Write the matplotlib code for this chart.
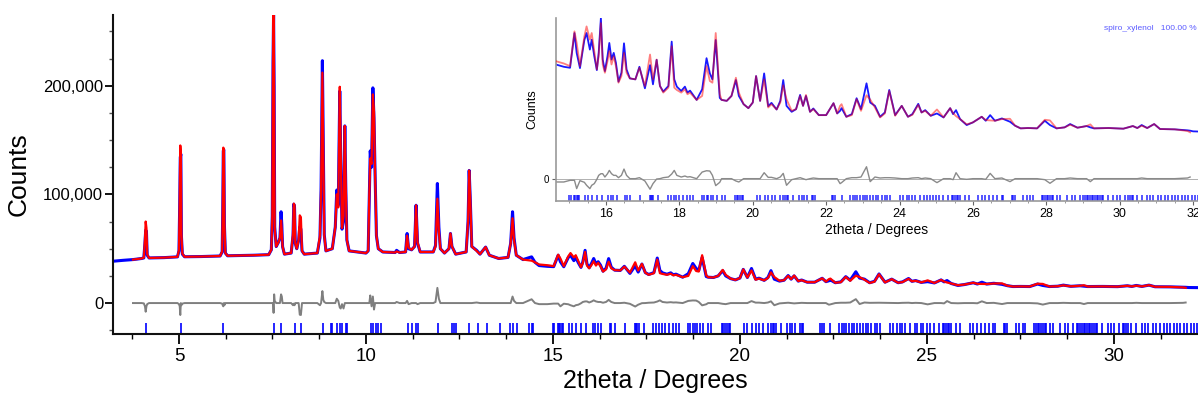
import numpy as np
import matplotlib
matplotlib.use("Agg")
import matplotlib.pyplot as plt
from matplotlib.ticker import MultipleLocator, FuncFormatter

plt.rcParams["font.family"] = ["Liberation Sans", "DejaVu Sans"]

# 2theta grid with observed / calculated counts (in thousands)
two_theta = [
    3.24, 3.50, 3.77, 4.00, 4.06, 4.09, 4.11, 4.13, 4.15, 4.20, 4.60, 4.96,
    5.00, 5.02, 5.035, 5.05, 5.065, 5.09, 5.15, 5.60, 6.10, 6.155, 6.17, 6.185,
    6.20, 6.215, 6.24, 6.30, 7.00, 7.40, 7.47, 7.495, 7.515, 7.53, 7.545, 7.56,
    7.60, 7.66, 7.70, 7.73, 7.75, 7.77, 7.82, 8.00, 8.05, 8.07, 8.09, 8.11,
    8.15, 8.20, 8.23, 8.26, 8.29, 8.35, 8.70, 8.77, 8.80, 8.835, 8.86, 8.885,
    8.93, 9.10, 9.18, 9.22, 9.26, 9.30, 9.325, 9.36, 9.40, 9.435, 9.46, 9.49,
    9.55, 10.00, 10.06, 10.09, 10.115, 10.15, 10.185, 10.215, 10.245, 10.28, 10.33, 10.45,
    10.78, 10.82, 10.90, 11.06, 11.10, 11.14, 11.22, 11.30, 11.34, 11.38, 11.45, 11.80,
    11.86, 11.91, 11.95, 11.99, 12.10, 12.22, 12.26, 12.30, 12.40, 12.68, 12.73, 12.76,
    12.79, 12.83, 12.96, 13.05, 13.20, 13.30, 13.55, 13.80, 13.87, 13.92, 13.96, 14.02,
    14.20, 14.43, 14.52, 14.63, 14.85, 15.02, 15.14, 15.20, 15.29, 15.41, 15.47, 15.56,
    15.61, 15.68, 15.75, 15.80, 15.86, 15.91, 15.97, 16.04, 16.09, 16.15, 16.21, 16.27,
    16.34, 16.42, 16.49, 16.56, 16.65, 16.80, 16.91, 17.06, 17.20, 17.28, 17.38, 17.47,
    17.56, 17.70, 17.79, 17.86, 17.93, 18.05, 18.15, 18.22, 18.29, 18.47, 18.62, 18.74,
    18.83, 18.90, 18.99, 19.10, 19.15, 19.29, 19.42, 19.54, 19.62, 19.75, 19.88, 20.00,
    20.09, 20.20, 20.31, 20.42, 20.51, 20.65, 20.75, 20.83, 20.92, 21.06, 21.18, 21.29,
    21.37, 21.45, 21.56, 21.65, 21.80, 22.00, 22.20, 22.30, 22.38, 22.42, 22.55, 22.70,
    22.83, 22.95, 23.10, 23.20, 23.33, 23.47, 23.60, 23.72, 23.88, 24.06, 24.23, 24.35,
    24.51, 24.60, 24.70, 24.85, 25.02, 25.20, 25.38, 25.46, 25.54, 25.65, 25.83, 26.00,
    26.24, 26.35, 26.47, 26.60, 26.79, 27.01, 27.15, 27.30, 27.50, 27.75, 27.96, 28.10,
    28.28, 28.50, 28.65, 28.85, 29.10, 29.20, 29.30, 29.70, 30.10, 30.36, 30.48, 30.60,
    30.75, 30.94, 31.10, 31.50, 31.85, 31.92, 32.00, 32.25,
]
obs_k = [
    38.5, 39.3, 40.0, 41.0, 41.5, 55.0, 67.0, 66.0, 44.0, 41.5, 41.8, 42.5,
    48.0, 92.0, 134.0, 137.0, 62.0, 45.0, 42.6, 42.8, 43.3, 47.0, 83.0, 140.0,
    141.0, 72.0, 46.0, 43.5, 44.0, 44.5, 49.0, 80.0, 222.0, 266.0, 200.0, 70.0,
    52.0, 56.0, 60.0, 84.0, 72.0, 52.0, 45.0, 46.0, 62.0, 91.0, 88.0, 55.0,
    50.0, 58.0, 70.0, 68.0, 48.0, 45.0, 46.0, 60.0, 104.0, 223.0, 138.0, 63.0,
    48.0, 50.0, 70.0, 104.0, 90.0, 195.0, 135.0, 68.0, 75.0, 163.0, 108.0, 58.0,
    48.0, 46.0, 48.0, 100.0, 140.0, 125.0, 198.0, 170.0, 117.0, 62.0, 50.0, 47.0,
    46.5, 48.5, 46.5, 47.0, 64.0, 50.0, 49.0, 52.0, 90.0, 55.0, 47.0, 47.0,
    53.0, 110.0, 70.0, 50.0, 46.0, 50.0, 64.0, 52.0, 45.0, 47.0, 75.0, 122.0,
    95.0, 52.0, 48.5, 45.0, 51.5, 44.0, 41.0, 42.0, 55.0, 84.0, 60.0, 44.0,
    40.0, 42.5, 37.5, 34.5, 33.8, 33.5, 44.0, 38.0, 33.4, 41.9, 44.0, 39.0,
    42.0, 37.0, 32.8, 38.0, 48.5, 36.0, 32.5, 37.0, 41.0, 36.0, 38.0, 35.0,
    29.3, 32.0, 40.9, 33.0, 30.3, 30.0, 33.8, 27.3, 34.3, 28.5, 35.9, 28.0,
    26.3, 28.0, 41.4, 30.0, 27.8, 26.5, 27.8, 26.0, 26.6, 23.8, 27.0, 36.4,
    31.8, 30.0, 41.9, 24.4, 23.8, 23.5, 25.0, 29.8, 25.0, 22.5, 21.3, 23.0,
    31.0, 23.5, 31.8, 21.9, 22.9, 20.9, 23.5, 29.8, 22.0, 20.2, 21.0, 25.3,
    22.0, 25.0, 20.2, 21.2, 19.2, 19.2, 22.8, 19.7, 20.5, 21.3, 18.7, 19.5,
    24.3, 21.0, 28.8, 23.0, 22.0, 18.7, 20.0, 26.8, 19.2, 22.0, 18.7, 19.5,
    22.6, 20.0, 20.7, 19.0, 19.7, 18.5, 21.3, 19.5, 20.7, 18.0, 16.2, 17.0,
    18.7, 17.5, 19.2, 17.5, 18.2, 17.2, 16.0, 15.2, 15.3, 15.2, 17.5, 16.2,
    15.2, 15.5, 16.5, 15.4, 15.9, 15.5, 15.2, 15.3, 15.1, 15.9, 15.3, 16.2,
    15.3, 16.5, 15.0, 14.9, 14.6, 14.5, 14.3, 14.2,
]
calc_k = [
    38.5, 39.3, 40.0, 41.0, 41.8, 58.0, 75.0, 69.0, 45.0, 41.5, 41.8, 42.5,
    49.0, 95.0, 145.0, 137.0, 64.0, 45.5, 42.6, 42.8, 43.3, 47.5, 85.0, 143.0,
    141.0, 74.0, 46.0, 43.5, 44.0, 44.5, 49.0, 80.0, 222.0, 275.0, 192.0, 68.0,
    52.0, 56.0, 60.0, 76.0, 66.0, 52.0, 45.0, 46.0, 64.0, 91.5, 90.0, 55.0,
    50.0, 58.0, 80.7, 79.0, 48.0, 45.0, 46.0, 62.0, 104.0, 212.0, 135.0, 62.0,
    48.0, 50.0, 70.0, 100.0, 88.0, 199.0, 140.0, 69.0, 80.0, 163.0, 108.0, 58.0,
    48.0, 46.0, 48.0, 100.0, 133.0, 128.0, 192.0, 176.0, 117.0, 62.0, 50.0, 47.0,
    46.5, 47.5, 46.5, 47.0, 62.0, 51.0, 49.0, 52.0, 90.0, 56.0, 47.0, 47.0,
    52.0, 96.0, 66.0, 50.0, 46.0, 50.0, 64.0, 52.0, 45.0, 47.0, 75.0, 122.0,
    95.0, 52.0, 48.0, 45.0, 51.5, 44.0, 41.0, 42.0, 55.0, 78.0, 58.0, 44.0,
    40.0, 39.0, 37.5, 35.5, 34.8, 34.0, 44.5, 41.0, 34.0, 43.0, 46.0, 42.0,
    44.0, 38.5, 33.0, 37.0, 47.0, 34.5, 32.0, 35.5, 38.5, 34.5, 37.0, 34.0,
    29.0, 31.0, 38.0, 32.0, 30.3, 30.0, 33.5, 28.0, 37.5, 30.0, 36.0, 28.0,
    26.0, 27.5, 40.0, 27.5, 26.8, 26.0, 27.0, 25.5, 26.0, 23.8, 25.0, 34.0,
    29.5, 29.0, 44.0, 25.5, 23.8, 23.5, 25.0, 30.5, 26.0, 22.5, 21.3, 23.0,
    31.0, 23.5, 30.0, 21.5, 22.5, 20.9, 23.0, 28.2, 24.0, 20.5, 21.0, 25.0,
    22.0, 25.3, 20.2, 21.0, 19.2, 19.2, 22.8, 19.7, 22.0, 22.5, 18.7, 19.2,
    24.0, 20.5, 25.2, 23.9, 21.5, 18.5, 19.7, 26.5, 19.0, 22.0, 18.7, 19.3,
    22.3, 20.0, 20.5, 19.0, 20.9, 18.5, 21.3, 19.8, 18.9, 18.0, 16.4, 17.0,
    18.7, 17.7, 17.6, 17.5, 18.0, 18.1, 16.0, 15.2, 15.3, 15.2, 17.8, 17.6,
    15.2, 15.5, 16.3, 15.4, 15.9, 16.4, 15.2, 15.3, 15.1, 15.9, 15.3, 16.0,
    15.3, 16.5, 15.0, 14.9, 14.4, 14.0, 14.3, 14.2,
]
# refinement range (calc and difference only exist here)
fit_start, fit_end = 3.77, 31.92

# reflection positions for the phase
hkl_pos = [
    4.11, 5.05, 6.19, 7.55, 7.73, 8.09, 8.25, 8.84, 9.06, 9.10, 9.23, 9.31,
    9.37, 9.46, 9.48, 10.13, 10.20, 10.27, 10.33, 10.40, 11.13, 11.22, 11.34, 11.40,
    11.93, 12.29, 12.35, 12.42, 12.76, 13.00, 13.23, 13.58, 13.85, 13.92, 14.03, 14.37,
    14.43, 14.47, 14.99, 15.04, 15.13, 15.16, 15.20, 15.24, 15.27, 15.43, 15.52, 15.61,
    15.75, 15.88, 16.06, 16.13, 16.20, 16.29, 16.52, 16.56, 16.65, 16.93, 17.20, 17.23,
    17.26, 17.29, 17.43, 17.68, 17.76, 17.84, 17.91, 18.00, 18.11, 18.20, 18.29, 18.38,
    18.61, 18.67, 18.74, 18.79, 18.85, 18.92, 19.02, 19.15, 19.24, 19.52, 19.56, 19.61,
    19.65, 19.70, 19.74, 20.11, 20.20, 20.33, 20.42, 20.52, 20.61, 20.74, 20.83, 20.88,
    20.92, 20.97, 21.11, 21.27, 21.33, 21.40, 21.47, 21.61, 21.65, 21.70, 22.15, 22.20,
    22.24, 22.42, 22.65, 22.72, 22.79, 22.85, 22.92, 23.00, 23.06, 23.12, 23.20, 23.29,
    23.36, 23.42, 23.51, 23.60, 23.67, 23.74, 24.01, 24.10, 24.19, 24.27, 24.33, 24.42,
    24.56, 24.67, 24.74, 24.83, 24.90, 24.99, 25.08, 25.19, 25.33, 25.42, 25.47, 25.51,
    25.56, 25.60, 25.65, 25.78, 25.88, 26.15, 26.24, 26.33, 26.45, 26.56, 26.65, 26.78,
    26.83, 27.06, 27.10, 27.15, 27.37, 27.47, 27.56, 27.63, 27.87, 27.92, 27.96, 28.01,
    28.06, 28.10, 28.15, 28.19, 28.28, 28.37, 28.56, 28.69, 28.78, 28.92, 29.01, 29.05,
    29.10, 29.15, 29.19, 29.24, 29.28, 29.33, 29.37, 29.42, 29.46, 29.51, 29.55, 29.69,
    29.83, 29.92, 30.01, 30.15, 30.24, 30.28, 30.33, 30.37, 30.46, 30.60, 30.74, 30.83,
    30.92, 31.05, 31.14, 31.24, 31.33, 31.42, 31.51, 31.60, 31.69, 31.78, 31.87, 31.96,
    32.05, 32.14, 32.22,
]
phase_label = "spiro_xylenol   100.00 %"

tt = np.array(two_theta)
y_obs = np.array(obs_k) * 1000
y_calc = np.array(calc_k) * 1000
fit = (tt >= fit_start) & (tt <= fit_end)
y_diff = y_obs - y_calc

BLUE = "#0000ff"
RED = "#ff0000"
GREY = "#7f7f7f"

fig = plt.figure(figsize=(11.98, 4.01), dpi=100)

# ---- main pattern
ax = fig.add_axes([0.0943, 0.167, 0.9057, 0.7955])
ax.plot(tt, y_obs, color=BLUE, lw=2.2, zorder=2)
ax.plot(tt[fit], y_calc[fit], color=RED, lw=1.6, zorder=3)
ax.plot(tt[fit], y_diff[fit], color=GREY, lw=1.4, zorder=2)
ax.vlines(hkl_pos, -27600, -18400, color=BLUE, lw=1.2, zorder=2)

ax.set_xlim(3.235, 32.25)
ax.set_ylim(-28500, 265000)
for s in ("top", "right"):
    ax.spines[s].set_visible(False)
for s in ("left", "bottom"):
    ax.spines[s].set_linewidth(1.5)
    ax.spines[s].set_color("#111111")
ax.xaxis.set_major_locator(MultipleLocator(5))
ax.xaxis.set_minor_locator(MultipleLocator(1.25))
ax.yaxis.set_major_locator(MultipleLocator(100000))
ax.yaxis.set_minor_locator(MultipleLocator(25000))
ax.yaxis.set_major_formatter(FuncFormatter(lambda v, _: f"{v:,.0f}"))
ax.tick_params(axis="x", which="major", length=7, width=1.3, labelsize=13.5, pad=3)
ax.tick_params(axis="x", which="minor", length=3.5, width=1.0)
ax.tick_params(axis="y", which="major", length=6, width=1.3, labelsize=12, pad=1)
ax.tick_params(axis="y", which="minor", length=3, width=1.0, color="#555555")
ax.set_xlabel("2theta / Degrees", fontsize=18, labelpad=3)
ax.set_ylabel("Counts", fontsize=19, labelpad=9)

# ---- inset, 15-32 degrees
ai = fig.add_axes([0.4639, 0.4988, 0.5361, 0.4564])
ai.set_facecolor("white")
ai.axhline(0, color="#b0b0b0", lw=0.7, zorder=1)
ai.plot(tt, y_obs, color=BLUE, lw=1.3, alpha=0.9, zorder=2)
ai.plot(tt[fit], y_calc[fit], color=RED, lw=1.3, alpha=0.5, zorder=3)
ai.plot(tt[fit], y_diff[fit], color="#8a8a8a", lw=1.0, zorder=2)
ai.vlines(hkl_pos, -6740, -4900, color=BLUE, lw=1.1, alpha=0.85, zorder=2)

ai.set_xlim(14.63, 32.135)
ai.set_ylim(-6740, 48550)
for s in ("top", "right"):
    ai.spines[s].set_visible(False)
for s in ("left", "bottom"):
    ai.spines[s].set_color("#9a9a9a")
    ai.spines[s].set_linewidth(1.2)
ai.xaxis.set_major_locator(MultipleLocator(2))
ai.xaxis.set_minor_locator(MultipleLocator(0.5))
ai.set_yticks([0])
ai.tick_params(axis="x", which="major", length=3, width=0.8, color="#666666",
               labelsize=9, pad=2)
ai.tick_params(axis="x", which="minor", length=1.5, width=0.6, color="#888888")
ai.tick_params(axis="y", length=3, width=0.8, color="#666666", labelsize=7, pad=2)
ai.set_xlabel("2theta / Degrees", fontsize=10, labelpad=2)
ai.set_ylabel("Counts", fontsize=9, labelpad=4)
ai.text(0.998, 0.945, phase_label, transform=ai.transAxes, ha="right", va="center",
        fontsize=6, color="#5a5aff")

fig.savefig("out.png", dpi=100)
